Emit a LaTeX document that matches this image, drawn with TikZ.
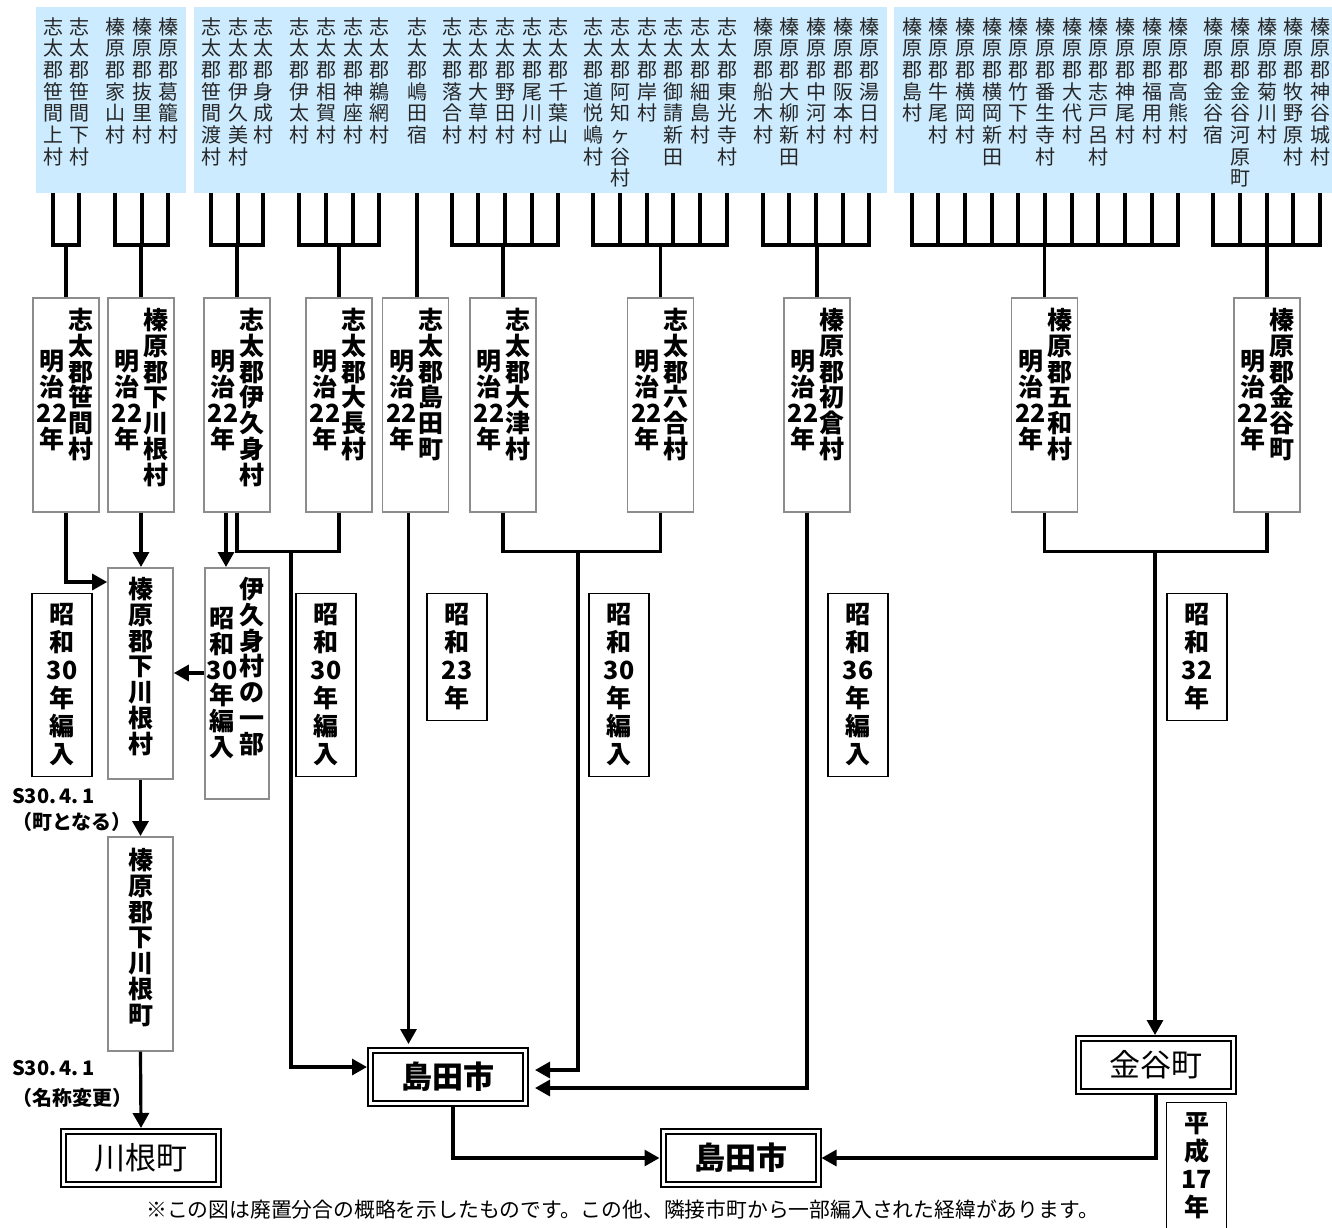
\documentclass[tikz,border=0pt]{standalone}
\usepackage{fontspec}
\setmainfont{Noto Sans CJK JP}
\usetikzlibrary{arrows.meta,positioning}

\definecolor{headblue}{HTML}{CCEBFF}
\definecolor{boxgray}{HTML}{8C8C8C}
\definecolor{hdrtext}{HTML}{262626}

% vertical text: one character (or braced group) per line
\ExplSyntaxOn
\seq_new:N \l_tate_items_seq
\NewDocumentCommand{\tate}{m}
  {
    \seq_clear:N \l_tate_items_seq
    \tl_set:Nx \l_tmpa_tl {#1}
    \tl_map_inline:Nn \l_tmpa_tl { \seq_put_right:Nn \l_tate_items_seq {##1} }
    \seq_use:Nn \l_tate_items_seq { \\ }
  }
\ExplSyntaxOff

\tikzset{
  panel/.style={fill=headblue, minimum height=186pt, anchor=north west, inner sep=0pt, outer sep=0pt},
  hdr/.style={anchor=north, inner sep=0pt, align=center, text=hdrtext, font=\fontsize{20}{21.7}\selectfont},
  village/.style={draw=boxgray, line width=1.6pt, fill=white, minimum width=66pt, minimum height=214pt, inner sep=0pt, anchor=north},
  vname/.style={anchor=north, inner sep=0pt, align=center, font=\bfseries\fontsize{25}{25.8}\selectfont},
  era/.style={draw, line width=1.4pt, fill=white, minimum width=60pt, inner xsep=0pt, inner ysep=10pt, anchor=north, align=center, font=\bfseries\fontsize{25}{28}\selectfont},
  city/.style={draw, line width=2pt, double=white, double distance=3pt, minimum width=155pt, minimum height=53pt, outer sep=3.5pt, font=\fontsize{31}{31}\selectfont},
  link/.style={line width=3.2pt},
  arr/.style={link, -{Triangle[length=15pt,width=16pt]}},
  date/.style={anchor=west, inner sep=0pt, font=\bfseries\fontsize{20}{20}\selectfont},
  note/.style={anchor=west, inner sep=0pt, font=\fontsize{20.8}{20.8}\selectfont}
}

% Meiji 22 village box: name, x centre, village
\newcommand{\meiji}[3]{%
  \node[village] (#1) at (#2,297) {};
  \node[vname] (#1n) at (#2+15,308) {\tate{#3}};
  \node[vname] (#1y) at (#2-14,350) {\tate{明治{22}年}};
}
% header columns first..last joined to a box
\newcommand{\tiegroup}[4]{%
  \draw[link] (h#2 |- #1.south) -- ++(0,52) -| (h#3 |- #1.south);
  \foreach \k in {#2,...,#3} \draw[link] (h\k |- #1.south) -- ++(0,52);
  \draw[link] (#4.north) -- ++(0,-52);
}

\begin{document}
\begin{tikzpicture}[x=1pt,y=-1pt]
\useasboundingbox (0,0) rectangle (1332,1227);

% header
\node[panel, minimum width=150pt] (p1) at (36,7) {};
\node[panel, minimum width=693pt] (p2) at (194,7) {};
\node[panel, minimum width=440pt] (p3) at (894,7) {};
\foreach \x/\vil [count=\i] in {53/志太郡笹間上村, 79/志太郡笹間下村, 115/榛原郡家山村,
    142/榛原郡抜里村, 168/榛原郡葛籠村, 211/志太郡笹間渡村, 238/志太郡伊久美村,
    263/志太郡身成村, 299/志太郡伊太村, 326/志太郡相賀村, 353/志太郡神座村,
    379/志太郡鵜網村, 417/志太郡嶋田宿, 452/志太郡落合村, 478/志太郡大草村,
    505/志太郡野田村, 532/志太郡尾川村, 558/志太郡千葉山, 593/志太郡道悦嶋村,
    620/志太郡阿知ヶ谷村, 647/志太郡岸村, 673/志太郡御請新田, 700/志太郡細島村,
    727/志太郡東光寺村, 763/榛原郡船木村, 789/榛原郡大柳新田, 816/榛原郡中河村,
    843/榛原郡阪本村, 869/榛原郡湯日村, 912/榛原郡島村, 938/榛原郡牛尾村,
    965/榛原郡横岡村, 992/榛原郡横岡新田, 1018/榛原郡竹下村, 1045/榛原郡番生寺村,
    1072/榛原郡大代村, 1098/榛原郡志戸呂村, 1125/榛原郡神尾村, 1152/榛原郡福用村,
    1178/榛原郡高熊村, 1213/榛原郡金谷宿, 1240/榛原郡金谷河原町, 1267/榛原郡菊川村,
    1293/榛原郡牧野原村, 1320/榛原郡神谷城村}
  \node[hdr] (h\i) at (\x,17) {\tate{\vil}};

% Meiji 22
\meiji{b1}{66}{志太郡笹間村}
\meiji{b2}{141}{榛原郡下川根村}
\meiji{b3}{237}{志太郡伊久身村}
\meiji{b4}{339}{志太郡大長村}
\meiji{b5}{415.5}{志太郡島田町}
\meiji{b6}{503}{志太郡大津村}
\meiji{b7}{660.5}{志太郡六合村}
\meiji{b8}{817}{榛原郡初倉村}
\meiji{b9}{1044.5}{榛原郡五和村}
\meiji{b10}{1267}{榛原郡金谷町}

\tiegroup{p1}{1}{2}{b1}
\tiegroup{p1}{3}{5}{b2}
\tiegroup{p2}{6}{8}{b3}
\tiegroup{p2}{9}{12}{b4}
\draw[link] (h13 |- p2.south) -- (h13 |- b5.north);
\tiegroup{p2}{14}{18}{b6}
\tiegroup{p2}{19}{24}{b7}
\tiegroup{p2}{25}{29}{b8}
\tiegroup{p3}{30}{40}{b9}
\tiegroup{p3}{41}{45}{b10}

% Showa
\node[village, minimum width=65pt, minimum height=211pt] (smk) at (140.5,567) {};
\node[vname] (smkn) at (140.5,577) {\tate{榛原郡下川根村}};
\node[village, minimum width=64pt, minimum height=231pt] (ikp) at (237,567) {};
\node[vname] (ikpn) at (252,577) {\tate{伊久身村の一部}};
\node[vname] (ikpy) at (222,607) {\tate{昭和{30}年編入}};
\node[village, minimum width=65pt, minimum height=214pt] (smc) at (140.5,836) {};
\node[vname] (smcn) at (140.5,848) {\tate{榛原郡下川根町}};

\node[era] (e1) at (62,593) {\tate{昭和{30}年編入}};
\node[era] (e2) at (326,593) {\tate{昭和{30}年編入}};
\node[era] (e3) at (457,593) {\tate{昭和{23}年}};
\node[era] (e4) at (619,593) {\tate{昭和{30}年編入}};
\node[era] (e5) at (858,593) {\tate{昭和{36}年編入}};
\node[era] (e6) at (1197,593) {\tate{昭和{32}年}};
\node[era] (e7) at (1196.5,1102) {\tate{平成{17}年}};

\node[date] (d1) at (12,796) {S30.\,4.\,1};
\node[date] (d1b) at (12,822) {（町となる）};
\node[date] (d2) at (12,1068) {S30.\,4.\,1};
\node[date] (d2b) at (12,1098) {（名称変更）};

% cities
\node[city] (kaw) at (141,1158) {川根町};
\node[city, font=\bfseries\fontsize{31}{31}\selectfont] (sh1) at (448,1077) {島田市};
\node[city, font=\bfseries\fontsize{31}{31}\selectfont] (sh2) at (740.5,1158) {島田市};
\node[city] (kny) at (1156,1065) {金谷町};

% connectors
\draw[arr] (b1.south) |- (smk.west |- 0,582);
\draw[arr] (b2.south) -- (b2.south |- smk.north);
\draw[arr] ([xshift=-11pt]b3.south) -- ([xshift=-11pt]ikp.north);
\draw[arr] (ikp.west |- 0,673) -- (smk.east |- 0,673);
\draw[arr] (smk.south) -- (smc.north);
\draw[arr] (smc.south) -- (kaw.north);
\draw[link] (b3.south) -- ++(0,39) -| (b4.south);
\coordinate (m1) at (291,550);
\draw[arr] (m1) |- (sh1.west |- 0,1067);
\draw[arr, shorten >=3pt] ([xshift=-7pt]b5.south) -- ([xshift=-7pt]b5.south |- sh1.north);
\draw[link] (b6.south) -- ++(0,39) -| (b7.south);
\coordinate (m2) at (578,550);
\draw[arr, shorten >=6pt] (m2) |- (sh1.east |- 0,1070);
\draw[arr, shorten >=6pt] ([xshift=-10pt]b8.south) |- (sh1.east |- 0,1088);
\draw[link] (b9.south) -- ++(0,39) -| (b10.south);
\coordinate (m3) at (1155,550);
\draw[arr] (m3) -- (m3 |- kny.north);
\draw[arr] ([xshift=5pt]sh1.south) |- (sh2.west);
\draw[arr] (kny.south) |- (sh2.east);

\node[note] (fn) at (146,1210) {※この図は廃置分合の概略を示したものです。この他、隣接市町から一部編入された経緯があります。};
\end{tikzpicture}
\end{document}
